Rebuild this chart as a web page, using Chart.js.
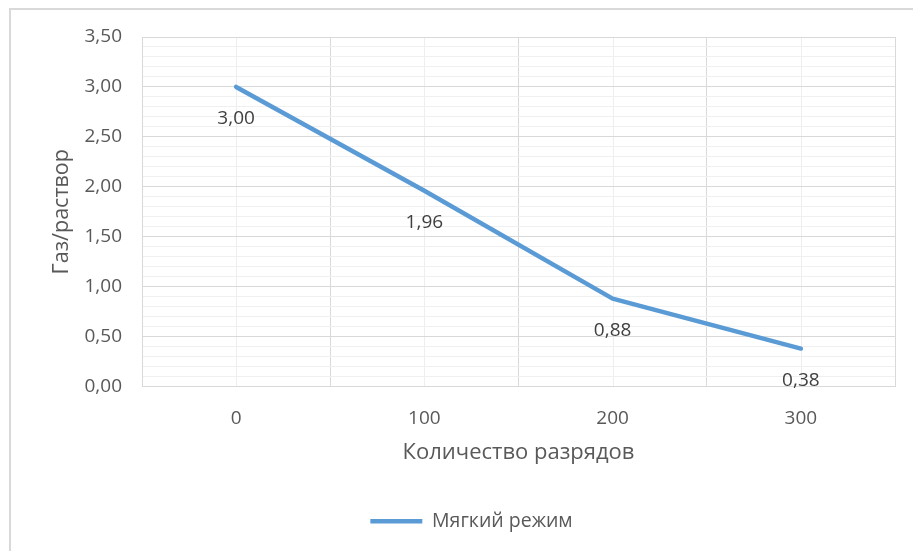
<!DOCTYPE html>
<html lang="ru">
<head>
<meta charset="UTF-8">
<title>Газ/раствор</title>
<script src="https://cdn.jsdelivr.net/npm/chart.js@4.4.0/dist/chart.umd.min.js"></script>
<style>
    html, body { margin: 0; padding: 0; background: #fff; }
</style>
</head>
<body>
<canvas id="myChart" width="913" height="551"></canvas>
<script>
// data
const categories = ['0', '100', '200', '300'];
const seriesName = 'Мягкий режим';
const seriesValues = [3.00, 1.96, 0.88, 0.38];
const xTitle = 'Количество разрядов';
const yTitle = 'Газ/раствор';
const yMin = 0, yMax = 3.5, yMajor = 0.5, yMinor = 0.1;

function fmt(v) { return v.toFixed(2).replace('.', ','); }
function isMajor(v) { return Math.abs(v / yMajor - Math.round(v / yMajor)) < 1e-6; }

Chart.defaults.font.family = '"Open Sans", sans-serif';
Chart.defaults.color = '#595959';

// frame + light vertical lines through category centres (under the grid)
const backPlugin = {
    id: 'back',
    beforeDraw(chart) {
        const ctx = chart.ctx;
        const area = chart.chartArea;
        ctx.save();
        ctx.strokeStyle = '#d9d9d9';
        ctx.lineWidth = 2;
        ctx.beginPath();
        ctx.moveTo(10, chart.height);
        ctx.lineTo(10, 9);
        ctx.lineTo(chart.width, 9);
        ctx.stroke();

        ctx.strokeStyle = '#eeeeee';
        ctx.lineWidth = 1;
        categories.forEach(function (c, i) {
            const x = Math.round(chart.scales.x.getPixelForValue(i)) + 0.5;
            ctx.beginPath();
            ctx.moveTo(x, area.top);
            ctx.lineTo(x, area.bottom);
            ctx.stroke();
        });
        ctx.restore();
    }
};

// value labels under the points
const valueLabels = {
    id: 'valueLabels',
    afterDatasetsDraw(chart) {
        const ctx = chart.ctx;
        const meta = chart.getDatasetMeta(0);
        ctx.save();
        ctx.font = '19px "Open Sans"';
        ctx.fillStyle = '#404040';
        ctx.textAlign = 'center';
        ctx.textBaseline = 'middle';
        meta.data.forEach(function (pt, i) {
            ctx.fillText(fmt(seriesValues[i]), pt.x, pt.y + 32);
        });
        ctx.restore();
    }
};

const config = {
    type: 'line',
    data: {
        labels: categories,
        datasets: [{
            label: seriesName,
            data: seriesValues,
            borderColor: '#5b9bd5',
            backgroundColor: '#5b9bd5',
            borderWidth: 4.5,
            borderCapStyle: 'round',
            borderJoinStyle: 'round',
            pointRadius: 0,
            pointHoverRadius: 0,
            pointStyle: 'line',
            tension: 0
        }]
    },
    options: {
        responsive: false,
        animation: false,
        layout: { padding: { left: 48, right: 18, top: 37, bottom: 10 } },
        plugins: {
            legend: {
                position: 'bottom',
                labels: {
                    usePointStyle: true,
                    pointStyleWidth: 52,
                    padding: 10,
                    color: '#595959',
                    font: { size: 19.5 }
                }
            },
            tooltip: { enabled: false }
        },
        scales: {
            x: {
                offset: true,
                grid: { color: '#d9d9d9', drawTicks: false, offset: true },
                border: { color: '#d9d9d9' },
                ticks: { padding: 21, font: { size: 19 }, color: '#595959' },
                title: {
                    display: true,
                    text: xTitle,
                    color: '#595959',
                    font: { size: 22 },
                    padding: { top: 0, bottom: 36 }
                },
                afterFit(s) { s.height = 115; }
            },
            y: {
                min: yMin,
                max: yMax,
                grid: {
                    drawTicks: false,
                    color: function (c) { return isMajor(c.tick.value) ? '#d9d9d9' : '#f0f0f0'; }
                },
                border: { color: '#d9d9d9' },
                ticks: {
                    stepSize: yMinor,
                    autoSkip: false,
                    padding: 20,
                    font: { size: 19 },
                    color: '#595959',
                    callback: function (v) { return isMajor(v) ? fmt(v) : ''; }
                },
                title: {
                    display: true,
                    text: yTitle,
                    color: '#595959',
                    font: { size: 21.5 },
                    padding: { top: 1, bottom: 0 }
                },
                afterFit(s) { s.width = 94; }
            }
        }
    },
    plugins: [backPlugin, valueLabels]
};

const myChart = new Chart(document.getElementById('myChart'), config);
</script>
</body>
</html>
